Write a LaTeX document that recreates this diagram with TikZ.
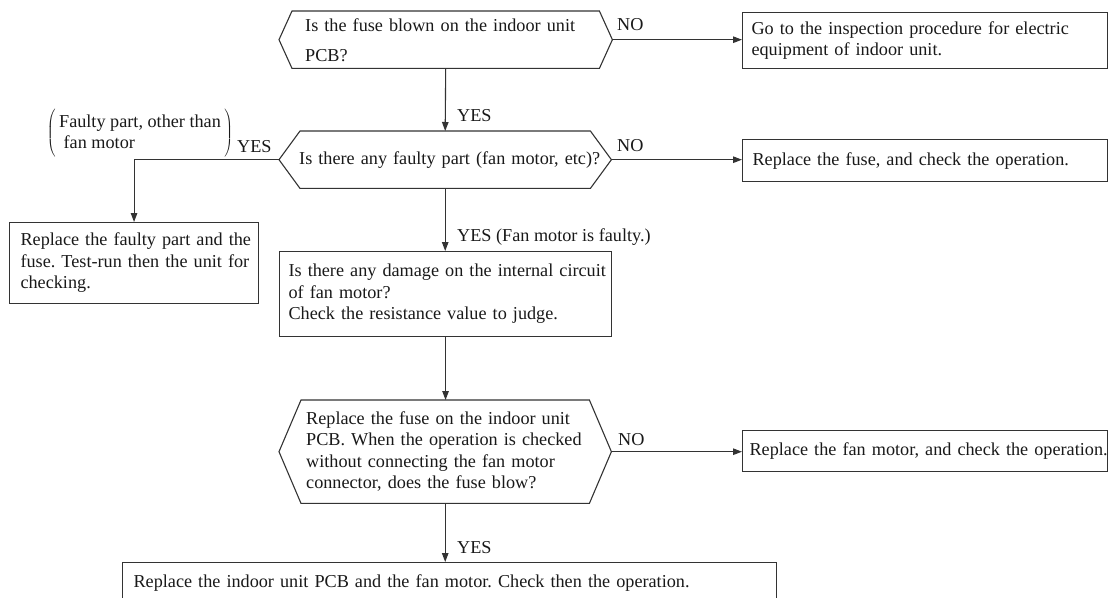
\documentclass[tikz,border=0pt]{standalone}
\usepackage{fontspec}
\setmainfont{Liberation Serif}
\usetikzlibrary{arrows.meta}
\hbadness=10000 \hfuzz=50pt
\frenchspacing
\newcommand{\oneline}[1]{\mbox{#1}}
\begin{document}
\begin{tikzpicture}[x=1pt,y=-1pt,
  every node/.style={font=\fontsize{18.2}{21.5}\selectfont, text=black!90},
  ln/.style={draw=black!80, line width=1.1pt},
  arr/.style={ln, -{Triangle[length=9pt,width=6.5pt]}},
  boxn/.style={ln, rectangle, anchor=north west, align=left, inner ysep=0pt},
  hexn/.style={rectangle, anchor=north west, align=left, inner ysep=0pt},
  lbl/.style={inner sep=0pt, anchor=base west}]
\useasboundingbox (0,0) rectangle (1108,597);
\newcommand{\hexdraw}[2]{\draw[ln, line join=miter] ([xshift=#2]#1.north west) -- ([xshift=-#2]#1.north east) -- (#1.east) -- ([xshift=-#2]#1.south east) -- ([xshift=#2]#1.south west) -- (#1.west) -- cycle;}

% hexagon 1
\node[hexn, minimum width=333, minimum height=57, inner xsep=26pt, text width=281pt] (h1) at (279,11)
  {\rule{0pt}{14pt}\oneline{Is the fuse blown on the indoor unit}\\[8.5pt] \oneline{PCB?}};
\hexdraw{h1}{13}
\node[boxn, minimum width=365, minimum height=56, inner xsep=9pt, text width=347pt] (b1) at (742,12)
  {\oneline{Go to the inspection procedure for electric}\\ \oneline{equipment of indoor unit.}};

% hexagon 2
\node[hexn, minimum width=332, minimum height=57, inner xsep=20pt, text width=292pt, align=center] (h2) at (279,131)
  {\oneline{Is there any faulty part (fan motor, etc)?}};
\hexdraw{h2}{21}
\node[boxn, minimum width=365, minimum height=42, inner xsep=10pt, text width=345pt] (b2) at (742,139)
  {\oneline{Replace the fuse, and check the operation.}};
\node[boxn, minimum width=249, minimum height=81, inner xsep=11pt, text width=227pt] (b3) at (9,222)
  {\oneline{Replace the faulty part and the}\\ \oneline{fuse. Test-run then the unit for}\\ \oneline{checking.}};

% box 4
\node[boxn, minimum width=332, minimum height=85, inner xsep=9pt, text width=314pt] (b4) at (279,251)
  {\oneline{Is there any damage on the internal circuit}\\ \oneline{of fan motor?}\\ \oneline{Check the resistance value to judge.}};

% hexagon 3
\node[hexn, minimum width=332, minimum height=103, inner xsep=27pt, text width=278pt] (h3) at (279,400)
  {\oneline{Replace the fuse on the indoor unit}\\ \oneline{PCB. When the operation is checked}\\ \oneline{without connecting the fan motor}\\ \oneline{connector, does the fuse blow?}};
\hexdraw{h3}{22}
\node[boxn, minimum width=365, minimum height=41, inner xsep=7pt, text width=351pt] (b5) at (742,430)
  {\oneline{Replace the fan motor, and check the operation.}};

% box 6
\node[boxn, minimum width=654, minimum height=40, inner xsep=11pt, text width=632pt] (b6) at (122,562)
  {\oneline{Replace the indoor unit PCB and the fan motor. Check then the operation.}};

% connectors
\draw[arr] (h1.east) -- (h1.east -| b1.west);
\draw[arr] (h1.south) -- (h2.north);
\draw[arr] (h2.east) -- (h2.east -| b2.west);
\draw[arr] (h2.west) -| (b3.north);
\draw[arr] (h2.south) -- (h2.south |- b4.north);
\draw[arr] (b4.south) -- (b4.south |- h3.north);
\draw[arr] (h3.east) -- (h3.east -| b5.west);
\draw[arr] (h3.south) -- (h3.south |- b6.north);

% labels
\node[lbl] (lno1) at (617,30) {NO};
\node[lbl] (lyes1) at (457,121) {YES};
\node[lbl] (lno2) at (617,151) {NO};
\node[inner sep=0pt] (lfp) at (140,133.5)
  {\begin{tabular}{@{}l@{}}Faulty part, other than\\ \ fan motor\end{tabular}};
\node[inner sep=0pt, anchor=east] (lpl) at ([xshift=-3pt]lfp.west)
  {$\nulldelimiterspace=0pt\left(\vrule height 21pt depth 21pt width 0pt\right.$};
\node[inner sep=0pt, anchor=west] (lpr) at ([xshift=3pt]lfp.east)
  {$\nulldelimiterspace=0pt\left.\vrule height 21pt depth 21pt width 0pt\right)$};
\node[lbl] (lyes2) at (237,152) {YES};
\node[lbl] (lyes3) at (457,241) {YES (Fan motor is faulty.)};
\node[lbl] (lno3) at (618,445) {NO};
\node[lbl] (lyes4) at (457,553) {YES};
\end{tikzpicture}
\end{document}
